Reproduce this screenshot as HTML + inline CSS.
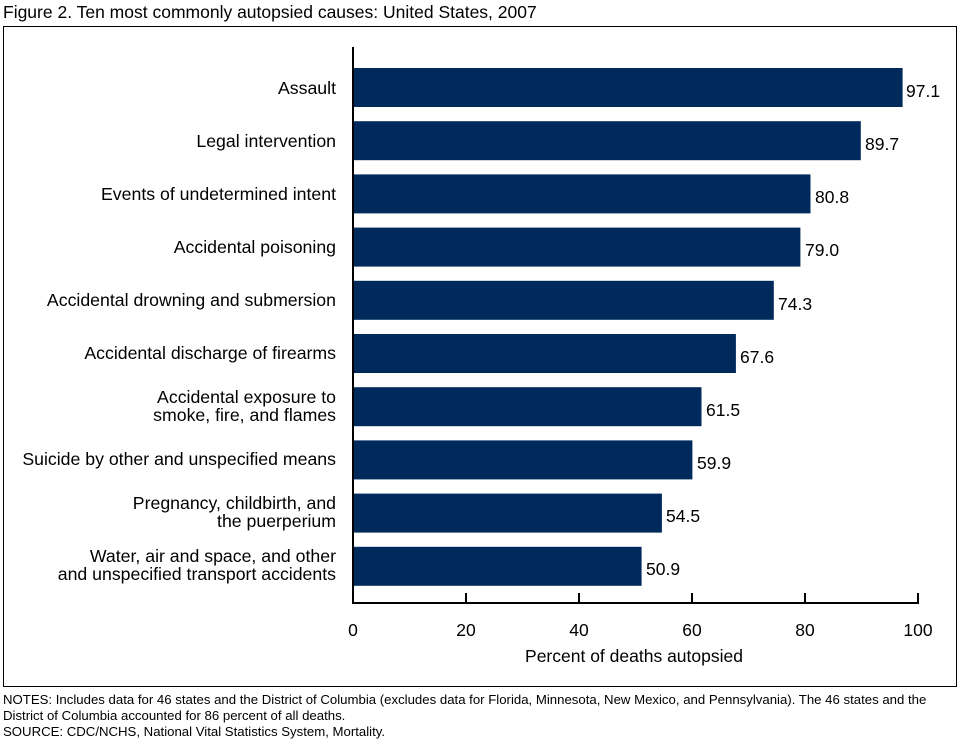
<!DOCTYPE html>
<html><head><style>
body{margin:0;background:#fff;}
svg{display:block;font-family:"Liberation Sans",Arial,sans-serif;}
</style></head><body>
<svg width="960" height="741" viewBox="0 0 960 741">
<text x="3" y="18" font-size="17.5" fill="#000">Figure 2. Ten most commonly autopsied causes: United States, 2007</text>
<rect x="3.5" y="26.5" width="953" height="660" fill="none" stroke="#000" stroke-width="1"/>
<g fill="#002a5c">
<rect x="354" y="68" width="548.6" height="39"/>
<rect x="354" y="121.2" width="506.8" height="39"/>
<rect x="354" y="174.4" width="456.5" height="39"/>
<rect x="354" y="227.6" width="446.4" height="39"/>
<rect x="354" y="280.8" width="419.8" height="39"/>
<rect x="354" y="334" width="381.9" height="39"/>
<rect x="354" y="387.2" width="347.5" height="39"/>
<rect x="354" y="440.4" width="338.4" height="39"/>
<rect x="354" y="493.6" width="307.9" height="39"/>
<rect x="354" y="546.8" width="287.6" height="39"/>
</g>
<g font-size="17.5" fill="#000">
<text x="906" y="97">97.1</text>
<text x="865" y="150">89.7</text>
<text x="815" y="203">80.8</text>
<text x="805" y="256">79.0</text>
<text x="778" y="310">74.3</text>
<text x="740" y="363">67.6</text>
<text x="706" y="416">61.5</text>
<text x="697" y="469">59.9</text>
<text x="666" y="522">54.5</text>
<text x="646" y="575">50.9</text>
</g>
<g font-size="17.7" fill="#000" text-anchor="end">
<text x="336" y="94">Assault</text>
<text x="336" y="147">Legal intervention</text>
<text x="336" y="200">Events of undetermined intent</text>
<text x="336" y="253">Accidental poisoning</text>
<text x="336" y="306">Accidental drowning and submersion</text>
<text x="336" y="359">Accidental discharge of firearms</text>
<text x="336" y="403">Accidental exposure to</text>
<text x="336" y="421">smoke, fire, and flames</text>
<text x="336" y="465">Suicide by other and unspecified means</text>
<text x="336" y="509">Pregnancy, childbirth, and</text>
<text x="336" y="527">the puerperium</text>
<text x="336" y="562">Water, air and space, and other</text>
<text x="336" y="580">and unspecified transport accidents</text>
</g>
<g stroke="#000" stroke-width="2">
<line x1="353" y1="47" x2="353" y2="604"/>
<line x1="352" y1="603" x2="919" y2="603"/>
<line x1="466" y1="593" x2="466" y2="603"/>
<line x1="579" y1="593" x2="579" y2="603"/>
<line x1="692" y1="593" x2="692" y2="603"/>
<line x1="805" y1="593" x2="805" y2="603"/>
<line x1="918" y1="593" x2="918" y2="603"/>
</g>
<g font-size="17.5" fill="#000" text-anchor="middle">
<text x="353" y="636">0</text>
<text x="466" y="636">20</text>
<text x="579" y="636">40</text>
<text x="692" y="636">60</text>
<text x="805" y="636">80</text>
<text x="918" y="636">100</text>
<text x="634" y="662">Percent of deaths autopsied</text>
</g>
<g font-size="13.2" fill="#000">
<text x="3" y="704">NOTES: Includes data for 46 states and the District of Columbia (excludes data for Florida, Minnesota, New Mexico, and Pennsylvania). The 46 states and the</text>
<text x="3" y="720">District of Columbia accounted for 86 percent of all deaths.</text>
<text x="3" y="736">SOURCE: CDC/NCHS, National Vital Statistics System, Mortality.</text>
</g>
</svg>
</body></html>
